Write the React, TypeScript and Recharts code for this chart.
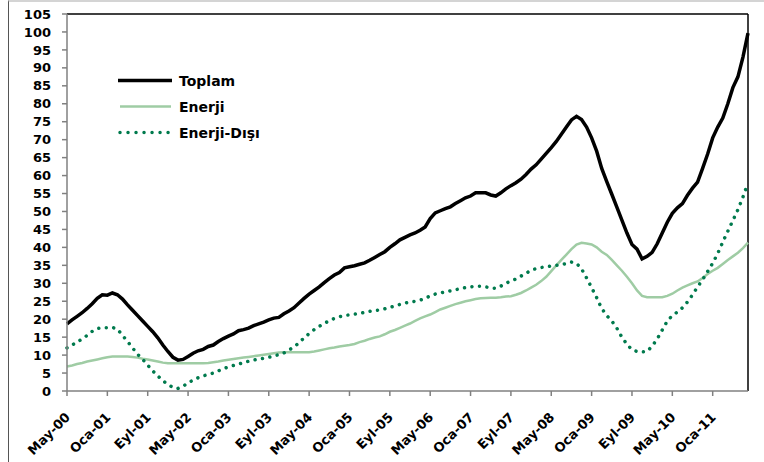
import React from 'react';
import { LineChart, Line, XAxis, YAxis, ReferenceLine } from 'recharts';

const MONTHS = ['Oca', 'Şub', 'Mar', 'Nis', 'May', 'Haz', 'Tem', 'Ağu', 'Eyl', 'Eki', 'Kas', 'Ara'];

// May-00 .. Ağu-11, monthly
const categories: string[] = [];
for (let i = 0; i < 136; i++) {
  const m = (4 + i) % 12;
  const yr = Math.floor((4 + i) / 12);
  categories.push(`${MONTHS[m]}-${String(yr).padStart(2, '0')}`);
}

const toplam = [
  18.7, 19.8, 20.8, 21.8, 23.0, 24.3, 25.8, 26.8, 26.7, 27.3, 26.8, 25.6,
  24.0, 22.5, 21.0, 19.5, 18.0, 16.5, 14.8, 12.8, 11.0, 9.4, 8.6, 8.8,
  9.6, 10.5, 11.2, 11.6, 12.4, 12.8, 13.8, 14.6, 15.3, 15.9, 16.8, 17.1,
  17.5, 18.2, 18.7, 19.2, 19.8, 20.3, 20.5, 21.5, 22.3, 23.2, 24.5, 25.8,
  27.0, 28.0, 29.0, 30.2, 31.3, 32.3, 33.0, 34.3, 34.6, 34.9, 35.3, 35.7,
  36.4, 37.2, 38.0, 38.8, 40.0, 41.0, 42.1, 42.8, 43.5, 44.0, 44.8, 45.7,
  48.0, 49.6, 50.2, 50.8, 51.3, 52.2, 53.0, 53.8, 54.3, 55.2, 55.2, 55.2,
  54.6, 54.3, 55.2, 56.3, 57.2, 58.0, 59.0, 60.3, 61.8, 63.0, 64.6, 66.2,
  67.8, 69.5, 71.5, 73.5, 75.5, 76.5, 75.6, 73.5, 70.5, 66.8, 62.0, 58.3,
  54.8, 51.2, 47.6, 44.0, 40.8, 39.5, 36.8, 37.5, 38.6, 41.0, 44.0, 47.0,
  49.5, 51.0, 52.2, 54.5, 56.5, 58.2, 62.0, 66.0, 70.5, 73.5, 76.0, 80.0,
  84.5, 87.5, 93.0, 99.7,
];

const enerji = [
  6.8, 7.1, 7.5, 7.8, 8.2, 8.5, 8.8, 9.1, 9.4, 9.6, 9.6, 9.6,
  9.6, 9.5, 9.3, 9.0, 8.8, 8.5, 8.2, 7.9, 7.7, 7.7, 7.7, 7.7,
  7.7, 7.7, 7.7, 7.7, 7.8, 8.0, 8.2, 8.5, 8.7, 8.9, 9.1, 9.3,
  9.5, 9.7, 9.9, 10.1, 10.3, 10.5, 10.7, 10.8, 10.8, 10.8, 10.8, 10.8,
  10.8, 11.0, 11.3, 11.6, 11.9, 12.1, 12.4, 12.6, 12.8, 13.1, 13.6, 14.0,
  14.5, 14.9, 15.2, 15.8, 16.5, 17.0, 17.6, 18.2, 18.8, 19.5, 20.2, 20.8,
  21.3, 22.0, 22.7, 23.2, 23.7, 24.2, 24.6, 25.0, 25.3, 25.6, 25.8, 25.9,
  26.0, 26.0, 26.1, 26.3, 26.4, 26.8, 27.3, 28.0, 28.8, 29.6, 30.6, 31.8,
  33.4, 35.0, 36.5, 38.0, 39.5, 40.8, 41.3, 41.1, 40.8, 40.0, 38.8, 37.9,
  36.5, 35.0, 33.5, 31.8, 30.0, 28.0, 26.5, 26.1, 26.1, 26.1, 26.1, 26.5,
  27.1, 28.0, 28.8, 29.4, 30.0, 30.5, 31.5, 32.6, 33.5, 34.3, 35.4, 36.5,
  37.5, 38.5, 39.8, 41.3,
];

const enerjiDisi = [
  12.0, 12.8, 13.6, 14.5, 15.5, 16.6, 17.4, 17.6, 17.6, 17.7, 17.2, 15.5,
  13.8, 12.0, 10.2, 8.8, 7.2, 5.6, 4.2, 2.9, 1.8, 1.0, 0.7, 1.3,
  2.3, 3.0, 3.7, 4.2, 4.6, 5.0, 5.6, 6.2, 6.7, 7.1, 7.5, 7.9,
  8.3, 8.6, 8.9, 9.1, 9.4, 9.8, 10.1, 10.6, 11.4, 12.3, 13.4, 14.8,
  16.0, 17.1, 18.0, 18.8, 19.6, 20.2, 20.7, 21.0, 21.2, 21.4, 21.6, 21.9,
  22.2, 22.4, 22.6, 22.9, 23.3, 23.7, 24.1, 24.5, 24.8, 25.0, 25.3, 25.8,
  26.5, 27.0, 27.3, 27.6, 27.9, 28.2, 28.5, 28.8, 29.0, 29.2, 29.2, 29.0,
  28.7, 28.6, 29.2, 30.0, 30.6, 31.2, 32.0, 32.8, 33.6, 34.1, 34.4, 34.6,
  34.8, 35.0, 35.2, 35.5, 35.9, 35.6, 34.0, 31.5, 28.8, 26.0, 23.0, 21.0,
  19.5, 17.5, 15.0, 13.0, 11.5, 11.0, 10.9, 11.0, 12.5, 14.5, 17.0, 19.5,
  21.0, 22.0, 23.2, 24.8, 26.8, 29.0, 31.0, 33.3, 35.6, 38.3, 41.5, 44.5,
  47.5, 50.5, 54.0, 58.0,
];

const yTicks = [0, 5, 10, 15, 20, 25, 30, 35, 40, 45, 50, 55, 60, 65, 70, 75, 80, 85, 90, 95, 100, 105];

const data = categories.map((c, i) => ({
  month: c,
  toplam: toplam[i],
  enerji: enerji[i],
  enerjiDisi: enerjiDisi[i],
}));

const FONT = '"DejaVu Sans", Arial, sans-serif';
const DARK_GREEN = '#007a4d';
const LIGHT_GREEN = '#9fcca4';

const XTick = ({ x, y, payload }: any) => (
  <g transform={`translate(${x + 4},${y + 22})`}>
    <text textAnchor="end" transform="rotate(-45)" fontFamily={FONT} fontWeight="bold" fontSize={13} fill="#000">
      {payload.value}
    </text>
  </g>
);

// legend sits inside the plot, top-left
const LegendBox = () => (
  <svg width={200} height={80} style={{ position: 'absolute', left: 110, top: 66 }}>
    <line x1={8} x2={62} y1={14.5} y2={14.5} stroke="#000" strokeWidth={3.5} />
    <text x={69} y={20} fontFamily={FONT} fontWeight="bold" fontSize={14}>Toplam</text>
    <line x1={10} x2={61} y1={40.5} y2={40.5} stroke={LIGHT_GREEN} strokeWidth={2.5} />
    <text x={69} y={46} fontFamily={FONT} fontWeight="bold" fontSize={14}>Enerji</text>
    <line x1={10} x2={60} y1={66.5} y2={66.5} stroke={DARK_GREEN} strokeWidth={3.5}
      strokeDasharray="0.01 8" strokeLinecap="round" />
    <text x={69} y={72} fontFamily={FONT} fontWeight="bold" fontSize={14}>Enerji-Dışı</text>
  </svg>
);

const App = () => {
  return (
    <div style={{ position: 'absolute', left: 0, top: 0, width: 764, height: 462, background: '#fff' }}>
      <div style={{ position: 'absolute', left: 8, top: 0, width: 756, height: 462, borderLeft: '1.5px solid #555', borderTop: '2px solid #d4d4d4', boxSizing: 'border-box' }} />
      <div style={{ position: 'absolute', left: 0, top: 0 }}>
        <LineChart width={764} height={462} data={data} margin={{ top: 14, right: 16, left: 0, bottom: 0 }}>
          <XAxis
            dataKey="month"
            scale="point"
            interval={7}
            height={71}
            tickSize={5}
            tickMargin={0}
            stroke="#808080"
            strokeWidth={1.5}
            tick={<XTick />}
          />
          <YAxis
            domain={[0, 105]}
            ticks={yTicks}
            interval={0}
            width={67}
            tickSize={5}
            tickMargin={11}
            stroke="#808080"
            strokeWidth={1.5}
            tick={{ fontFamily: FONT, fontWeight: 'bold', fontSize: 13, fill: '#000' }}
          />
          <ReferenceLine y={105} stroke="#000" strokeWidth={1.5} ifOverflow="extendDomain" />
          <ReferenceLine x={categories[categories.length - 1]} stroke="#000" strokeWidth={1.5} ifOverflow="extendDomain" />
          <Line type="linear" dataKey="enerji" stroke={LIGHT_GREEN} strokeWidth={2.5} dot={false} isAnimationActive={false} />
          <Line type="linear" dataKey="enerjiDisi" stroke={DARK_GREEN} strokeWidth={3.5} strokeDasharray="0.01 7.5"
            strokeLinecap="round" dot={false} isAnimationActive={false} />
          <Line type="linear" dataKey="toplam" stroke="#000" strokeWidth={3.5} dot={false} isAnimationActive={false} />
        </LineChart>
      </div>
      <LegendBox />
    </div>
  );
};

export default App;
